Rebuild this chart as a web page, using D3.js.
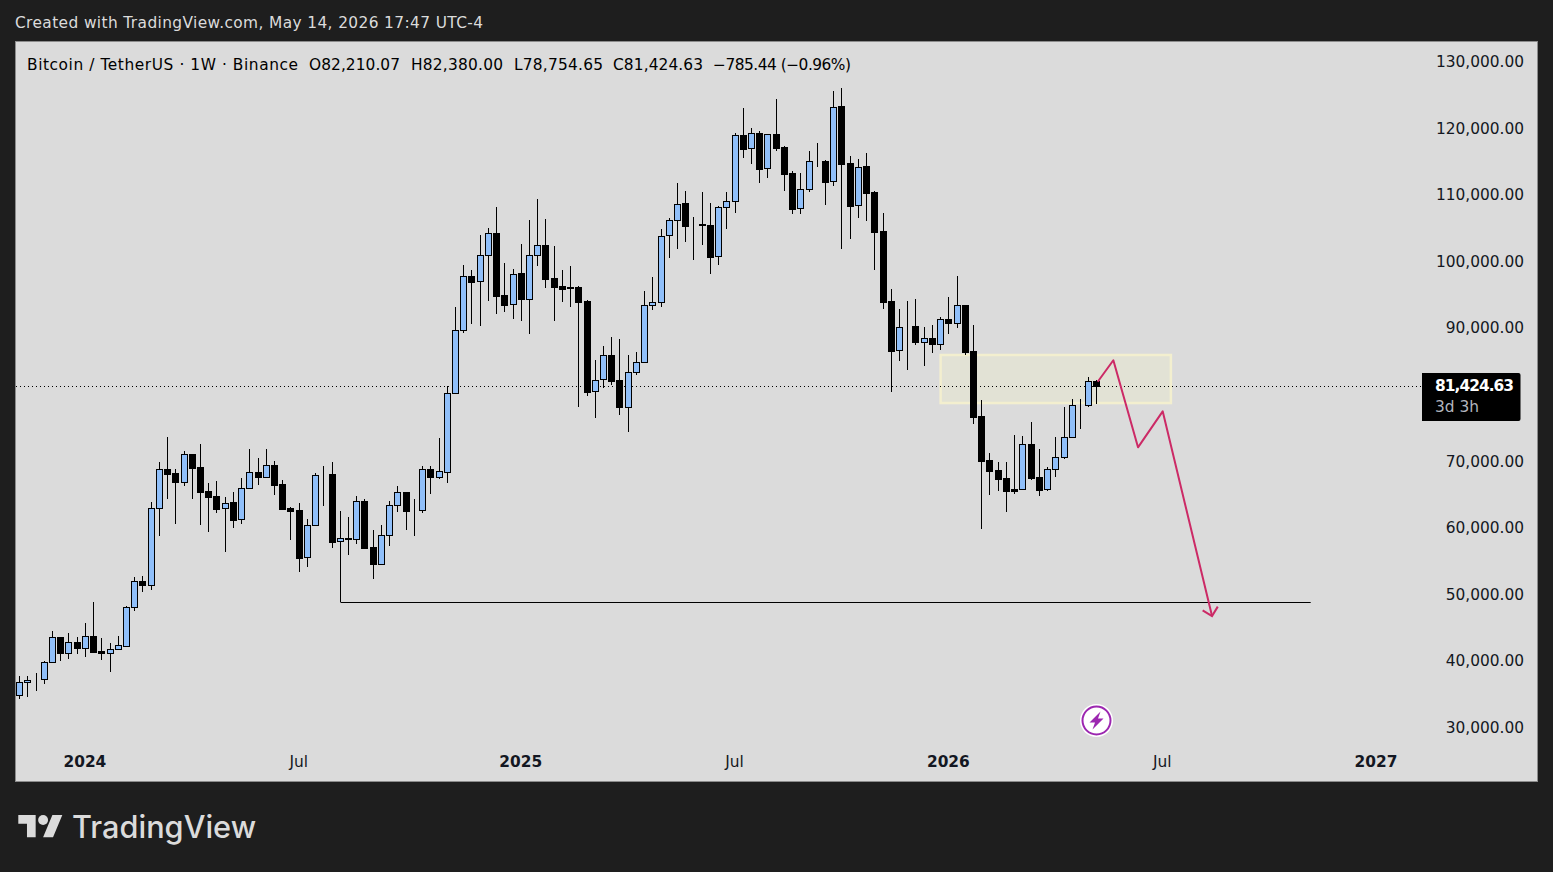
<!DOCTYPE html>
<html>
<head>
<meta charset="utf-8">
<script src="https://cdn.jsdelivr.net/npm/d3@7"></script>
<style>
  html, body { margin: 0; padding: 0; background: #1e1e1e; overflow: hidden; }
  text { font-family: "DejaVu Sans", sans-serif; }
</style>
</head>
<body>
<div id="chart"></div>
<script>
// weekly BTCUSDT candles, index 0 = first week shown
const opens = [34980,36930,37400,37380,39930,43690,41290,42940,42140,43840,41640,41390,41890,42440,48190,52100,51600,63060,68910,68310,67060,71170,69210,65610,64860,63060,63960,61400,66160,68460,67710,69510,66660,63060,62760,55700,60600,68160,68160,58100,58550,58400,64110,57200,54750,59000,63510,65460,62760,62760,68910,67810,68560,80320,89780,97890,97140,101040,104340,95030,93680,98340,94430,101140,102540,97590,96390,96240,96240,94130,80620,82420,86020,82270,78320,83570,85070,93630,94080,104050,106300,108850,105700,105700,105550,100890,108250,109150,119060,117110,119360,114110,119210,117260,113360,108100,111050,115160,115160,112150,123420,114860,108550,114410,110500,104650,94140,86780,90330,90380,88080,88580,87780,91430,90930,93540,86630,76870,70260,68760,67560,65910,65910,72670,67710,65910,68910,70710,73720,78520,78520,82210.07];
const highs = [37880,37880,38330,40080,44590,43690,44290,43690,45790,48940,43540,42790,43840,48440,52700,52850,63960,69960,73720,68910,71620,71170,72720,66810,67110,64710,65460,67560,71920,70560,71920,70110,67260,63210,63810,61450,68310,69360,69960,62610,61710,64910,64410,59750,60500,64110,66360,65460,64410,69360,69360,73570,81370,93280,99540,98840,104040,105090,108250,99840,98940,102690,106300,109450,106450,102390,98790,99390,96390,94280,85270,87380,88730,88430,86020,86470,95630,97740,104940,106600,111850,110650,106750,110500,108850,108400,110500,119360,123120,120110,119660,119210,124470,117460,113660,113360,116660,117860,115310,125670,126120,115910,115460,116360,110650,107350,95940,92940,94140,94440,90230,90530,91730,94740,97890,93540,90530,79270,71310,69960,69960,74020,73870,75970,71920,69210,73720,78220,79420,79420,82730,82380];
const lows = [34480,34780,35680,36730,39930,40180,40480,41230,40780,41540,40330,38530,41890,42290,47690,50540,50840,58950,64510,60750,66460,64510,60600,59550,62410,56550,60150,60750,66010,66610,67710,65110,63010,58300,53550,54300,60600,63460,57150,49000,56100,57750,57150,52500,54600,57400,62510,59850,58950,62410,65260,67510,66910,80320,89430,90730,90480,94230,92280,92580,91530,91230,89280,99490,96190,91230,94080,93330,78320,79970,76670,81120,81570,77120,74560,83070,85070,92830,93330,100690,102050,103100,100390,102650,98290,99640,105050,107450,115710,114810,111950,112700,116760,110750,107300,107300,110600,114360,108650,111500,102050,103550,106700,106250,98890,93040,80570,85230,83880,87630,84480,86430,86880,89280,90180,86130,75770,59990,65110,65710,62560,65260,65910,67360,64960,65710,67810,70510,73720,75020,78220,78754.65];
const closes = [36930,37230,37360,39930,43690,41290,42940,42140,43840,41540,41390,41890,42490,48190,52100,51600,63060,68910,68260,67060,71170,69160,65560,64810,63010,63910,61350,66160,68460,67710,69510,66610,63010,62710,55650,60600,68010,68160,58050,58550,58400,64110,57150,54750,59000,63510,65460,62710,62760,68910,67810,68610,80320,89780,97890,97090,101040,104340,94980,93630,98290,94430,101140,102540,97540,96340,96040,96190,94080,80570,82370,86020,82220,78320,83570,85070,93630,94080,103990,106300,108800,105500,105700,105650,100840,108250,109150,119060,117060,119360,114060,119210,117210,113310,108050,111050,115160,115160,112100,123370,114810,108500,114360,110450,104600,94090,86730,90230,90330,88080,88580,87780,91430,90930,93540,86580,76820,70210,68710,67510,65710,65710,72670,67660,65860,68910,70710,73720,78520,78520,82130,81424.63];

// 80,000 sits behind the last price tag in the reference
const priceTicks = [30000,40000,50000,60000,70000,90000,100000,110000,120000,130000];
const timeTickIdx = [8,34,61,87,113,139,165];
const timeTickLabels = ["2024","Jul","2025","Jul","2026","Jul","2027"];
const lastPrice = 81424.63;
const legendBits = ["Bitcoin / TetherUS · 1W · Binance","O82,210.07","H82,380.00","L78,754.65","C81,424.63","−785.44 (−0.96%)"];
const legendX = [27,309,411,514,613,713];
const legendW = [271,91,92,89,90,138];

// drawings on the chart
const supportLine = {from: 39, to: 157, price: 49000};
const zoneIdx = [112,140];
const zonePrice = [86080,78870];
const forecastIdx = [131.1,133,136,139,145];
const forecastPrice = [82070,85290,72220,77620,46890];

const W = 1553, H = 872;
const plot = {left: 15, right: 1538, top: 41, bottom: 782};
const fontSize = 15.4;

const svg = d3.select("#chart").append("svg")
    .attr("width", W).attr("height", H).style("display","block");

svg.append("rect").attr("width", W).attr("height", H).attr("fill", "#1e1e1e");
svg.append("rect")
    .attr("x", plot.left + .5).attr("y", plot.top + .5)
    .attr("width", plot.right - plot.left - 1).attr("height", plot.bottom - plot.top - 1)
    .attr("fill", "#dbdbdb").attr("stroke", "#8c8c8c");

svg.append("text").attr("x", 15).attr("y", 28)
    .attr("font-size", fontSize).attr("fill", "#dbdbdb")
    .attr("textLength", 468)
    .text("Created with TradingView.com, May 14, 2026 17:47 UTC-4");

const x = d3.scaleLinear().domain([0,165]).range([19.6,1376.5]);
const y = d3.scaleLinear().domain([30000,130000]).range([728.5,62.5]);
const cx = i => Math.floor(x(i)) + .5;
const cy = v => Math.round(y(v)) + .5;

// zone goes under the candles
svg.append("rect")
    .attr("x", x(zoneIdx[0])).attr("y", y(zonePrice[0]))
    .attr("width", x(zoneIdx[1]) - x(zoneIdx[0])).attr("height", y(zonePrice[1]) - y(zonePrice[0]))
    .attr("fill", "#e2e2d5").attr("stroke", "#f3efcf").attr("stroke-width", 2.5);

// last price dotted line
svg.append("line")
    .attr("x1", plot.left + 1).attr("x2", 1422)
    .attr("y1", cy(lastPrice)).attr("y2", cy(lastPrice))
    .attr("stroke", "#000").attr("stroke-dasharray", "1 3");

const candles = svg.append("g").selectAll("g")
    .data(d3.range(opens.length))
    .enter().append("g");

candles.append("line")
    .attr("x1", cx).attr("x2", cx)
    .attr("y1", i => Math.round(y(highs[i]))).attr("y2", i => Math.round(y(lows[i])))
    .attr("stroke", "#000");

candles.append("rect")
    .attr("x", i => cx(i) - 3).attr("width", 6)
    .attr("y", i => cy(Math.max(opens[i], closes[i])))
    .attr("height", i => cy(Math.min(opens[i], closes[i])) - cy(Math.max(opens[i], closes[i])))
    .attr("fill", i => closes[i] >= opens[i] ? "#90bff9" : "#000")
    .attr("stroke", "#000");

// horizontal support from the Aug 2024 wick
svg.append("line")
    .attr("x1", cx(supportLine.from)).attr("x2", x(supportLine.to))
    .attr("y1", cy(supportLine.price)).attr("y2", cy(supportLine.price))
    .attr("stroke", "#000");

// forecast path
const line = d3.line().x(d => x(d[0])).y(d => y(d[1]));
const pts = forecastIdx.map((d,i) => [d, forecastPrice[i]]);
const pink = "#cc2a66";
svg.append("path").attr("d", line(pts))
    .attr("fill", "none").attr("stroke", pink).attr("stroke-width", 2).attr("stroke-linejoin", "round");

const n = pts.length;
const tipX = x(pts[n-1][0]), tipY = y(pts[n-1][1]);
const ang = Math.atan2(tipY - y(pts[n-2][1]), tipX - x(pts[n-2][0]));
const arm = 11;
const head = [ang + Math.PI*.75, ang - Math.PI*.75].map(a => [tipX + arm*Math.cos(a), tipY + arm*Math.sin(a)]);
svg.append("path")
    .attr("d", d3.line()([head[0],[tipX,tipY],head[1]]))
    .attr("fill", "none").attr("stroke", pink).attr("stroke-width", 2);

// axes
const yAxis = d3.axisRight(y).tickValues(priceTicks).tickSize(0).tickPadding(0).tickFormat(d3.format(",.2f"));
const gy = svg.append("g").attr("transform", "translate(1524,-1)").call(yAxis);
gy.select(".domain").remove();
gy.selectAll("text").attr("text-anchor","end").attr("font-size",fontSize).attr("fill","#131722").style("font-family",'"DejaVu Sans", sans-serif');

const xAxis = d3.axisBottom(x).tickValues(timeTickIdx).tickSize(0).tickPadding(0).tickFormat((d,i) => timeTickLabels[i]);
const gx = svg.append("g").attr("transform", "translate(-1,756)").call(xAxis);
gx.select(".domain").remove();
gx.selectAll("text").attr("font-size",fontSize).attr("fill","#131722").style("font-family",'"DejaVu Sans", sans-serif')
    .attr("font-weight", (d,i) => timeTickLabels[i] === "Jul" ? 400 : 700);

// legend
svg.append("g").selectAll("text").data(legendBits).enter().append("text")
    .attr("x", (d,i) => legendX[i]).attr("y", 70)
    .attr("font-size", fontSize).attr("fill", "#000")
    .attr("textLength", (d,i) => legendW[i])
    .text(d => d);

// last price tag
svg.append("path")
    .attr("d", "M1422 373H1518.5a2 2 0 0 1 2 2V419a2 2 0 0 1 -2 2H1422Z")
    .attr("fill", "#000");
svg.append("text").attr("x", 1514).attr("y", 391).attr("text-anchor","end")
    .attr("font-size", fontSize).attr("fill", "#fff").attr("font-weight", 700)
    .attr("textLength", 79)
    .text(d3.format(",.2f")(lastPrice));
svg.append("text").attr("x", 1435).attr("y", 412)
    .attr("font-size", fontSize).attr("fill", "#b2b5be").text("3d 3h");

// purple lightning badge
const badge = svg.append("g").attr("transform", "translate(1096.5,720.5)");
badge.append("circle").attr("r", 16.5).attr("fill", "#fff");
badge.append("circle").attr("r", 14).attr("fill", "#fff").attr("stroke", "#9c27b0").attr("stroke-width", 2);
badge.append("path").attr("d", "M4 -9L-7 2H-1.5L-4 9L7 -2H1.5Z").attr("fill", "#9c27b0");

// TradingView logo
const logo = svg.append("g").attr("transform", "translate(18.3,810) scale(1.24)").attr("fill", "#dbdbdb");
logo.append("path").attr("d", "M14 22H7V11H0V4h14v18zM28 22h-8l7.5-18h8L28 22z");
logo.append("circle").attr("cx", 20).attr("cy", 8).attr("r", 4);
svg.append("text").attr("x", 72).attr("y", 838)
    .attr("font-size", 30.7).attr("font-weight", 500).attr("fill", "#dbdbdb")
    .style("font-family", "Inter, sans-serif").text("TradingView");
</script>
</body>
</html>
